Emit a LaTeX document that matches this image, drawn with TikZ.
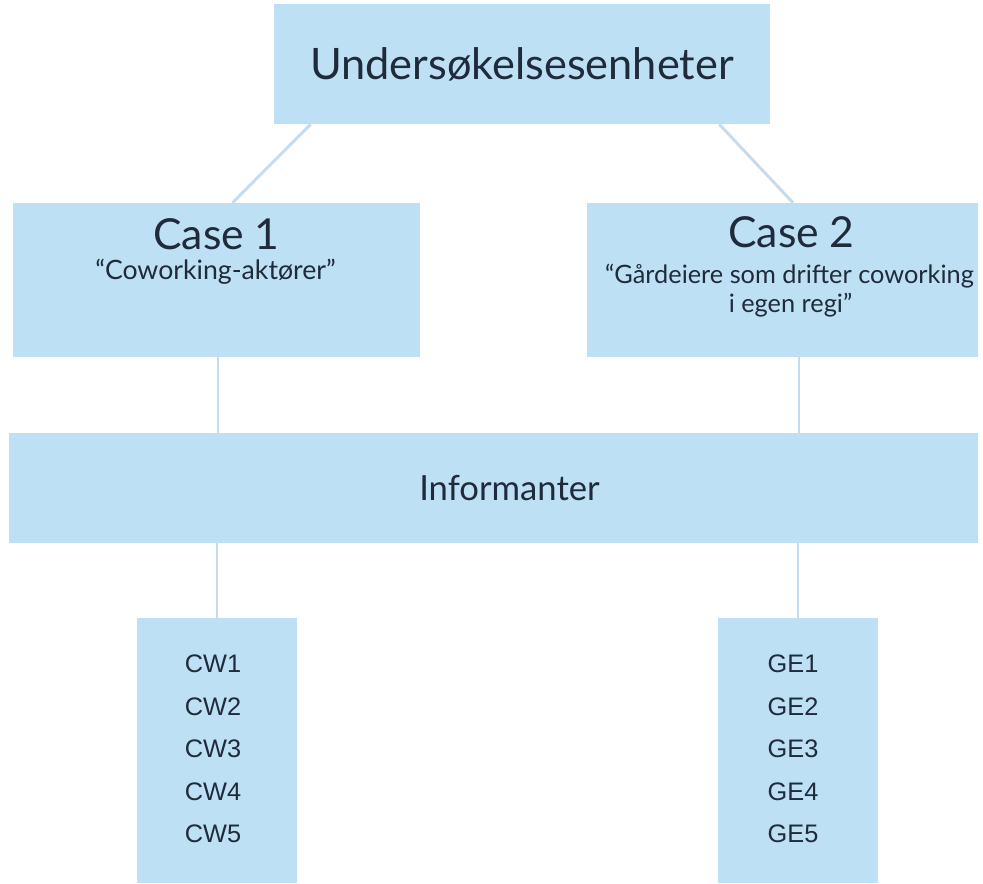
\documentclass[tikz,border=0pt]{standalone}
\usepackage{fontspec}
\setmainfont{Lato}
\newfontfamily\listfont{Liberation Sans}
\usepackage{tikz}
\usetikzlibrary{positioning,calc}
\definecolor{boxblue}{HTML}{BDE0F5}
\definecolor{lineblue}{HTML}{C4DCEE}
\definecolor{inkdark}{HTML}{1F2B3A}
\tikzset{
  ubox/.style={draw=none, fill=boxblue, inner sep=0pt, text=inkdark, align=center},
  utxt/.style={inner sep=0pt, text=inkdark, align=center},
  ulist/.style={inner sep=0pt, text=inkdark, anchor=base, font=\listfont\fontsize{19}{22}\selectfont},
  uline/.style={draw=lineblue, line width=2.2pt}
}

\begin{document}
\begin{tikzpicture}[x=0.75pt, y=-0.75pt]
  \useasboundingbox (0,0) rectangle (983,883);
  % boxes
  \node[ubox, minimum width=372pt, minimum height=90pt, font=\fontsize{32.5}{38}\selectfont] (enh) at (522,64) {Undersøkelsesenheter};
  \node[ubox, minimum width=305.25pt, minimum height=115.5pt] (case1) at (216.5,280) {};
  \node[ubox, minimum width=293.25pt, minimum height=115.5pt] (case2) at (782.5,280) {};
  \node[ubox, minimum width=726.75pt, minimum height=82.5pt] (info) at (493.5,488) {};
  \node[ubox, minimum width=120pt, minimum height=198.75pt] (cwbox) at (217,750.5) {};
  \node[ubox, minimum width=120pt, minimum height=198.75pt] (gebox) at (798,750.5) {};
  % texts
  \node[utxt, anchor=base, font=\fontsize{32}{36}\selectfont] (case1t) at ($(case1.north)+(0,47)$) {Case 1};
  \node[utxt, anchor=base, font=\fontsize{20}{24}\selectfont] (case1s) at ($(case1.north)+(-1,77)$) {“Coworking-aktører”};
  \node[utxt, anchor=base, font=\fontsize{32}{36}\selectfont] (case2t) at ($(case2.north)+(9,45)$) {Case 2};
  \node[utxt, anchor=base, font=\fontsize{19}{23}\selectfont] (case2s) at ($(case2.north)+(7,81)$) {“Gårdeiere som drifter coworking};
  \node[utxt, anchor=base, font=\fontsize{19}{23}\selectfont] (case2r) at ($(case2.north)+(8,110)$) {i egen regi”};
  \node[utxt, anchor=base, font=\fontsize{26}{30}\selectfont] (infot) at ($(info.center)+(16,12)$) {Informanter};
  \foreach \i in {1,...,5} {
    \node[ulist] (cw\i) at ($(cwbox.north)+(-4,{12.5+42.5*\i})$) {CW\i};
    \node[ulist] (ge\i) at ($(gebox.north)+(-5,{12.5+42.5*\i})$) {GE\i};
  }
  % connectors
  \coordinate (c1foot) at ($(case1.south)+(1.5,0)$);
  \coordinate (c2foot) at ($(case2.south)+(16.5,0)$);
  \draw[uline] ($(enh.south west)+(37,0)$) -- ($(case1.north)+(16,0)$);
  \draw[uline] ($(enh.south east)+(-51,0)$) -- ($(case2.north)+(10.5,0)$);
  \draw[uline] (c1foot) -- (c1foot |- info.north);
  \draw[uline] (c2foot) -- (c2foot |- info.north);
  \draw[uline] (cwbox.north |- info.south) -- (cwbox.north);
  \draw[uline] (gebox.north |- info.south) -- (gebox.north);
\end{tikzpicture}
\end{document}
